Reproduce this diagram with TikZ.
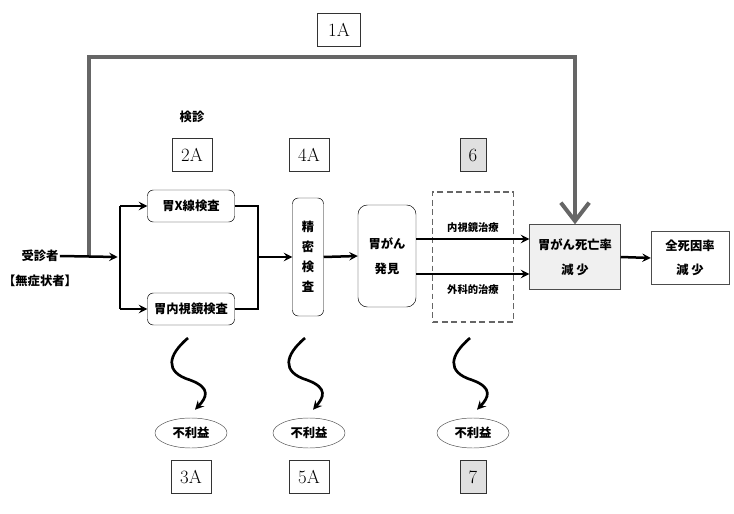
\documentclass[tikz,border=0pt]{standalone}
\usepackage{fontspec}
\newfontfamily\jp{Noto Sans CJK JP}
\usetikzlibrary{shapes.geometric, arrows.meta}

\begin{document}
\begin{tikzpicture}[x=0.03cm, y=-0.03cm]
%define

\tikzstyle{jp_text} = [font=\jp\bfseries\fontsize{10.5}{13}\selectfont, inner sep=1pt]
\tikzstyle{jp_small} = [font=\jp\bfseries\fontsize{8.8}{11}\selectfont, inner sep=1pt]
\tikzstyle{state_r} = [rectangle, rounded corners=5pt, text centered, draw=black, fill=white, jp_text]
\tikzstyle{state_b} = [rectangle, text centered, draw=black!70, jp_text]
\tikzstyle{num} = [rectangle, draw=black!80, minimum width=1.2cm, minimum height=1cm, inner sep=1pt, font=\fontsize{16}{18}\selectfont]
\tikzstyle{num_g} = [num, fill=black!12, minimum width=0.78cm]
\tikzstyle{harm} = [ellipse, draw=black!70, minimum width=2.16cm, minimum height=0.9cm, inner sep=0pt, jp_text]
\tikzstyle{arrow} = [->, >=stealth, line width=0.075cm]
\tikzstyle{line} = [line width=0.075cm]
\tikzstyle{arrowg} = [-{Straight Barb[length=0.55cm, width=0.85cm]}, draw=black!60, line width=0.12cm]
\tikzstyle{wave} = [->, >=stealth, line width=0.08cm]

\useasboundingbox (0,0) rectangle (734,514);

%labels
\node[num, minimum width=1.29cm](num_1A) at (339,30){1A};
\node[jp_text](label_Kenshin) at (192,117){検診};
\node[num](num_2A) at (192,155){2A};
\node[num](num_4A) at (309,155){4A};
\node[num_g](num_6) at (473,155){6};

%left
\node[jp_text](state_Person) at (40,256){受診者};
\node[jp_text](state_Person2) at (40,281){【無症状者】};
\coordinate (branch) at (89,257);
\coordinate (split) at (120,257);
\coordinate (merge) at (258,257);

%boxes
\node[state_r, minimum width=2.61cm, minimum height=0.96cm](state_Xray) at (191,206){胃X線検査};
\node[state_r, minimum width=2.61cm, minimum height=0.96cm](state_Endo) at (191,309){胃内視鏡検査};
\node[state_r, minimum width=0.93cm, minimum height=3.54cm, align=center, font=\jp\bfseries\fontsize{10.5}{17}\selectfont](state_Detail) at (308,257){精\\密\\検\\査};
\node[state_r, rounded corners=8pt, minimum width=1.74cm, minimum height=3.06cm, align=center, font=\jp\bfseries\fontsize{10.5}{21}\selectfont](state_Found) at (387,256){胃がん\\発見};
\node[rectangle, draw=black!60, dashed, dash pattern=on 5pt off 3pt, line width=0.05cm, minimum width=2.43cm, minimum height=3.9cm](state_Treat) at (473,257){};
\node[jp_small](label_Endo) at (473,228){内視鏡治療};
\node[jp_small](label_Surg) at (473,290){外科的治療};
\node[state_b, fill=black!6, minimum width=2.73cm, minimum height=1.95cm, align=center, font=\jp\bfseries\fontsize{10.5}{21}\selectfont](state_Death) at (575,257){胃がん死亡率\\減 少};
\node[state_b, minimum width=2.34cm, minimum height=1.59cm, align=center, font=\jp\bfseries\fontsize{10.5}{21}\selectfont](state_All) at (690,258){全死因率\\減 少};

%harms
\node[harm](harm_Screen) at (191,433){不利益};
\node[harm](harm_Detail) at (309,433){不利益};
\node[harm](harm_Treat) at (473,433){不利益};
\node[num](num_3A) at (191,477){3A};
\node[num](num_5A) at (309,477){5A};
\node[num_g](num_7) at (473,477){7};

%line
\draw[arrowg](branch) -- (branch |- 0,57) -- (state_Death.north |- 0,57) -- (state_Death.north); %1A
\draw[arrow](state_Person.east) -- ([xshift=-2]split);
\draw[line](split |- state_Xray) -- (split |- state_Endo);
\draw[arrow](split |- state_Xray) -- (state_Xray.west);
\draw[arrow](split |- state_Endo) -- (state_Endo.west);
\draw[line](state_Xray.east) -| (merge);
\draw[line](state_Endo.east) -| (merge);
\draw[arrow](merge) -- (state_Detail.west);
\draw[arrow](state_Detail.east) -- (state_Found.west);
\draw[arrow]([yshift=0.51cm]state_Found.east) -- ([yshift=0.51cm]state_Found.east -| state_Death.west); %endoscopic
\draw[arrow]([yshift=-0.54cm]state_Found.east) -- ([yshift=-0.54cm]state_Found.east -| state_Death.west); %surgical
\draw[arrow](state_Death.east) -- (state_All.west);

%waves
\draw[wave](188,338) .. controls (168,355) and (164,372) .. (190,380) .. controls (212,388) and (206,398) .. ([shift={(4,-8)}]harm_Screen.north);
\draw[wave](305,338) .. controls (285,355) and (281,372) .. (307,380) .. controls (329,388) and (323,398) .. ([shift={(4,-8)}]harm_Detail.north);
\draw[wave](470,338) .. controls (450,355) and (446,372) .. (472,380) .. controls (494,388) and (488,398) .. ([shift={(4,-8)}]harm_Treat.north);

\end{tikzpicture}
\end{document}
